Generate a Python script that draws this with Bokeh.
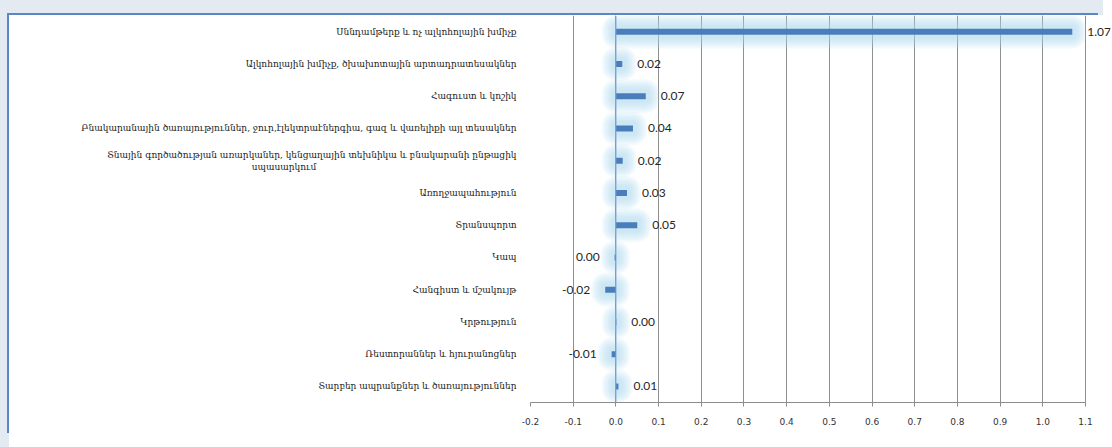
from bokeh.plotting import figure
from bokeh.models import ColumnDataSource, FactorRange, FixedTicker, NumeralTickFormatter, Span, Range1d, LabelSet
from bokeh.embed import file_html
from bokeh.resources import INLINE
from bokeh.core.properties import value

NB = "\u00a0"
categories = [
    "Սննդամթերք և ոչ ալկոհոլային խմիչք",
    "Ալկոհոլային խմիչք, ծխախոտային արտադրատեսակներ",
    "Հագուստ և կոշիկ",
    "Բնակարանային ծառայություններ, ջուր,էլեկտրաէներգիա, գազ և վառելիքի այլ տեսակներ",
    "Տնային գործածության առարկաներ, կենցաղային տեխնիկա և բնակարանի ընթացիկ\nսպասարկում" + NB * 70,
    "Առողջապահություն",
    "Տրանսպորտ",
    "Կապ",
    "Հանգիստ և մշակույթ",
    "Կրթություն",
    "Ռեստորաններ և հյուրանոցներ",
    "Տարբեր ապրանքներ և ծառայություններ",
]
values = [1.069, 0.015, 0.07, 0.04, 0.016, 0.026, 0.05, -0.003, -0.025, 0.001, -0.01, 0.006]
value_labels = ["1.07", "0.02", "0.07", "0.04", "0.02", "0.03", "0.05", "0.00", "-0.02", "0.00", "-0.01", "0.01"]
x_ticks = [-0.2, -0.1, 0.0, 0.1, 0.2, 0.3, 0.4, 0.5, 0.6, 0.7, 0.8, 0.9, 1.0, 1.1]

W, H = 1103, 432
ML, MT, MB = 521, 0, 45
AXIS_PX = 555          # pixel length of the -0.2 .. 1.1 axis
MR = 2
x0, x1 = x_ticks[0], x_ticks[-1]
px_x = AXIS_PX / (x1 - x0)
x_end = x1 + (W - ML - MR - AXIS_PX) / px_x   # frame runs past 1.1 so the 1.07 label stays visible
px_y = (H - MT - MB) / len(categories)

p = figure(width=W, height=H,
           y_range=FactorRange(factors=categories[::-1]),
           x_range=Range1d(x0, x_end),
           output_backend="svg", toolbar_location=None,
           min_border_left=ML, min_border_right=MR, min_border_top=MT, min_border_bottom=MB)
p.outline_line_color = None
p.background_fill_color = "white"
p.border_fill_color = "white"
p.styles = {"position": "relative", "top": "15px", "left": "9px",
            "box-shadow": "-8px -8px 0 -6px #5b87c5, -9px -15px 0 0 #e4eaf2, -9px 0 0 0 #e4eaf2"}

bar_h = 6 / px_y
lefts = [min(0, v) for v in values]
rights = [max(0, v) for v in values]

# soft glow around the bars
for pad in [14, 12, 10, 8, 6, 4]:
    dx = pad / px_x
    src = ColumnDataSource(dict(
        y=categories,
        left=[l - dx for l in lefts],
        right=[r + dx for r in rights],
    ))
    p.hbar(y="y", left="left", right="right", height=bar_h + 2 * pad / px_y, source=src,
           fill_color="#a9dcec", fill_alpha=0.13, line_color=None, border_radius=pad)

bars = ColumnDataSource(dict(y=categories, left=lefts, right=rights))
p.hbar(y="y", left="left", right="right", height=bar_h, source=bars,
       fill_color="#4a7ebb", line_color=None)

p.add_layout(Span(location=0, dimension="height", line_color="#6e9bd2", line_width=1))

pos = [i for i, v in enumerate(values) if v >= 0]
neg = [i for i, v in enumerate(values) if v < 0]
for idx, off, align in [(pos, 15, "left"), (neg, -15, "right")]:
    s = ColumnDataSource(dict(x=[values[i] for i in idx], y=[categories[i] for i in idx],
                              text=[value_labels[i] for i in idx]))
    p.add_layout(LabelSet(x="x", y="y", text="text", source=s, x_offset=off,
                          text_align=align, text_baseline="middle", text_font=value("Lato"),
                          text_font_size="12px", text_color="#262626"))

p.xaxis.ticker = FixedTicker(ticks=x_ticks)
p.xaxis.bounds = (x0, x1)
p.xaxis.formatter = NumeralTickFormatter(format="0.0")
p.xaxis.axis_line_color = "#8c8c8c"
p.xaxis.major_tick_line_color = "#8c8c8c"
p.xaxis.major_tick_out = 4
p.xaxis.major_tick_in = 0
p.xaxis.minor_tick_line_color = None
p.xaxis.major_label_text_font = "DejaVu Sans"
p.xaxis.major_label_text_font_size = "9px"
p.xaxis.major_label_text_color = "#333333"
p.xaxis.major_label_standoff = 11

p.yaxis.axis_line_color = None
p.yaxis.major_tick_line_color = None
p.yaxis.minor_tick_line_color = None
p.yaxis.major_label_text_font = "DejaVu Serif"
p.yaxis.major_label_text_font_size = "9px"
p.yaxis.major_label_text_color = "#222222"
p.yaxis.major_label_standoff = 8

p.xgrid.ticker = FixedTicker(ticks=x_ticks)
p.xgrid.grid_line_color = "#8f8f8f"
p.ygrid.grid_line_color = None

open("out.html", "w").write(file_html(p, INLINE))
